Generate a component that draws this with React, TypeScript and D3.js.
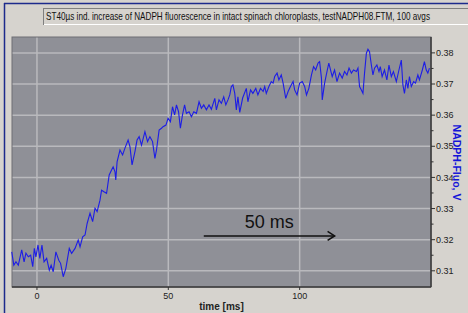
import React from "react";
import * as d3 from "d3";

// trace: time in ms, fluorescence in V
const timeMs = [
  -9.6, -8.8, -8.0, -7.1, -5.8, -4.9, -4.2, -3.3, -2.4, -1.6, -1.0, -0.4, 0.4, 1.1, 1.9, 2.7, 3.7, 4.7,
  5.4, 6.2, 7.2, 8.3, 9.0, 10.0, 11.0, 12.3, 13.2, 14.5, 15.7, 16.4, 17.4, 18.3, 19.1, 20.2, 21.2, 22.1,
  22.9, 24.0, 24.6, 25.5, 26.5, 27.5, 28.4, 29.0, 29.7, 30.0, 30.5, 31.6, 32.6, 33.5, 34.7, 35.4, 36.2,
  37.3, 38.1, 38.9, 39.8, 41.1, 42.1, 43.0, 44.0, 44.9, 45.5, 46.5, 47.4, 48.0, 49.1, 49.9, 50.8, 51.6,
  52.4, 53.1, 53.9, 54.6, 55.4, 56.2, 56.9, 57.9, 58.8, 59.7, 60.7, 61.7, 62.6, 63.5, 64.5, 65.5, 66.4,
  67.7, 68.3, 69.3, 70.2, 71.1, 71.9, 72.7, 73.4, 74.0, 74.6, 75.3, 75.9, 76.5, 77.2, 78.3, 79.7, 80.3,
  81.3, 82.2, 83.3, 84.1, 85.1, 86.1, 86.7, 87.3, 88.3, 89.2, 89.9, 90.5, 91.4, 92.1, 93.0, 93.7, 94.7,
  95.6, 96.5, 97.5, 98.1, 99.0, 100.0, 101.0, 101.9, 102.6, 103.5, 104.5, 105.3, 106.1, 107.0, 107.6,
  108.3, 108.6, 109.5, 110.4, 111.1, 112.4, 113.3, 114.2, 115.2, 116.2, 117.1, 118.0, 118.8, 119.7,
  120.5, 121.6, 122.2, 122.8, 123.5, 124.1, 124.7, 125.4, 126.0, 126.6, 127.3, 127.9, 128.5, 129.4,
  130.2, 130.7, 131.4, 132.3, 133.2, 134.0, 134.9, 135.7, 136.8, 137.8, 138.7, 139.3, 139.9, 140.6,
  141.2, 141.8, 142.5, 143.4, 144.1, 145.0, 145.6, 146.7, 147.5, 148.2, 148.8, 149.4,
];
const fluoV = [
  0.3161, 0.3118, 0.3129, 0.3118, 0.3167, 0.3129, 0.3157, 0.3145, 0.315, 0.3113, 0.3172, 0.3145, 0.3183,
  0.314, 0.3183, 0.3129, 0.314, 0.3102, 0.3118, 0.3097, 0.3161, 0.3134, 0.3124, 0.3081, 0.3108, 0.3172,
  0.3156, 0.3172, 0.3199, 0.3177, 0.3209, 0.3215, 0.3252, 0.3285, 0.3258, 0.3301, 0.329, 0.3327, 0.3359,
  0.3354, 0.3349, 0.3408, 0.3424, 0.3434, 0.3418, 0.3392, 0.345, 0.3488, 0.3472, 0.3494, 0.352, 0.3499,
  0.344, 0.3483, 0.352, 0.3531, 0.3504, 0.3547, 0.3515, 0.3531, 0.3515, 0.3461, 0.3488, 0.3552, 0.3558,
  0.3563, 0.3568, 0.359, 0.3579, 0.3627, 0.3601, 0.3633, 0.3611, 0.3558, 0.3601, 0.3633, 0.3606, 0.3611,
  0.3595, 0.3611, 0.3606, 0.3643, 0.3622, 0.3633, 0.3617, 0.3633, 0.3619, 0.3654, 0.3617, 0.3649, 0.3638,
  0.3659, 0.3633, 0.3649, 0.3665, 0.3692, 0.3697, 0.367, 0.3617, 0.3659, 0.3609, 0.3655, 0.3686, 0.3643,
  0.3681, 0.367, 0.3686, 0.3665, 0.3686, 0.3676, 0.3692, 0.367, 0.3692, 0.3708, 0.3703, 0.3724, 0.3735,
  0.3713, 0.3729, 0.3703, 0.3654, 0.3676, 0.3692, 0.3708, 0.3681, 0.3665, 0.3703, 0.3708, 0.3692, 0.3665,
  0.3686, 0.3729, 0.3756, 0.3745, 0.3767, 0.3772, 0.3719, 0.3649, 0.3703, 0.374, 0.3767, 0.3724, 0.3745,
  0.3708, 0.3735, 0.3719, 0.374, 0.3729, 0.3751, 0.3735, 0.3745, 0.374, 0.3751, 0.3692, 0.3681, 0.367,
  0.3735, 0.3799, 0.3812, 0.3804, 0.3761, 0.3729, 0.3751, 0.3761, 0.374, 0.3756, 0.3724, 0.3745, 0.3713,
  0.3761, 0.3724, 0.374, 0.3708, 0.3745, 0.3777, 0.3697, 0.367, 0.3713, 0.3686, 0.3724, 0.3692, 0.3708,
  0.3703, 0.3729, 0.3713, 0.3745, 0.3772, 0.3745, 0.3735, 0.3751,
];

const xTicks = [0, 50, 100];
const yTicks = [0.31, 0.32, 0.33, 0.34, 0.35, 0.36, 0.37, 0.38];
const yMinorTicks = [0.315, 0.325, 0.335, 0.345, 0.355, 0.365, 0.375];
const titleText =
  "ST40\u00b5s ind. increase of NADPH fluorescence in intact spinach chloroplasts, testNADPH08.FTM, 100 avgs";
const scaleBarMs = [63.5, 113.3];
const scaleBarLevel = 0.3212;
const scaleBarLabel = "50 ms";

const W = 468;
const H = 313;
const font = "'Liberation Sans', Arial, sans-serif";

export default function App() {
  const x = d3.scaleLinear().domain([-9.5, 150]).range([12, 431]);
  const y = d3.scaleLinear().domain([0.3048, 0.3851]).range([287, 37]);
  const [x0, x1] = x.range();
  const [yb, yt] = y.range();

  const pts = timeMs.map((t, i) => [t, fluoV[i]] as [number, number]);
  const path = d3
    .line<[number, number]>()
    .x((d) => x(d[0]))
    .y((d) => y(d[1]))(pts);

  const ay = y(scaleBarLevel);
  const ax0 = x(scaleBarMs[0]);
  const ax1 = x(scaleBarMs[1]);

  return (
    <div style={{ position: "absolute", left: 0, top: 0 }}>
      <svg width={W} height={H} style={{ display: "block" }} fontFamily={font}>
        <rect width={W} height={H} fill="#d6d3ce" />
        {/* window frame */}
        <line x1={4.5} y1={3} x2={4.5} y2={H} stroke="#1c2a8c" strokeWidth={1.5} />
        <line x1={4} y1={3.5} x2={W} y2={3.5} stroke="#1c2a8c" strokeWidth={1.5} />

        {/* title box */}
        <rect x={43.5} y={8.5} width={430} height={16} fill="#d6d3ce" stroke="#808080" />
        <line x1={44} y1={24.5} x2={W} y2={24.5} stroke="#ffffff" />
        <text
          transform="translate(46,20) scale(0.8,1)"
          fontSize={10}
          fill="#111"
          textLength={480}
          lengthAdjust="spacingAndGlyphs"
        >
          {titleText}
        </text>

        {/* plot area */}
        <rect x={x0} y={yt} width={x1 - x0} height={yb - yt} fill="#8f9097" />
        {yTicks.map((v) => (
          <line key={"gy" + v} x1={x0} x2={x1} y1={y(v)} y2={y(v)} stroke="#b9b9bd" strokeWidth={1.5} />
        ))}
        {xTicks.map((t) => (
          <line key={"gx" + t} x1={x(t)} x2={x(t)} y1={yt} y2={yb} stroke="#b9b9bd" strokeWidth={1.5} />
        ))}
        <rect x={x0} y={yt} width={x1 - x0} height={yb - yt} fill="none" stroke="#6e6e74" strokeWidth={1} />
        <line x1={x0} x2={x1} y1={yb} y2={yb} stroke="#3a3a3a" strokeWidth={1.5} />
        <line x1={x1} x2={x1} y1={yt} y2={yb} stroke="#3a3a3a" strokeWidth={1.5} />

        {/* trace */}
        <path d={path ?? ""} fill="none" stroke="#1d1de6" strokeWidth={1.1} />

        {/* scale bar */}
        <line x1={ax0} x2={ax1} y1={ay} y2={ay} stroke="#111" strokeWidth={1.6} />
        <polyline
          points={`${ax1 - 7},${ay - 4.5} ${ax1},${ay} ${ax1 - 7},${ay + 4.5}`}
          fill="none"
          stroke="#111"
          strokeWidth={1.6}
        />
        <text x={(ax0 + ax1) / 2} y={ay - 8} fontSize={18} textAnchor="middle" fill="#111">
          {scaleBarLabel}
        </text>

        {/* right axis */}
        {yTicks.map((v) => (
          <g key={"ty" + v}>
            <line x1={x1} x2={x1 + 4} y1={y(v)} y2={y(v)} stroke="#333" />
            <text x={x1 + 5} y={y(v) + 3.2} fontSize={9} fill="#222">
              {v.toFixed(2)}
            </text>
          </g>
        ))}
        {yMinorTicks.map((v) => (
          <line key={"my" + v} x1={x1} x2={x1 + 2.5} y1={y(v)} y2={y(v)} stroke="#333" />
        ))}
        <text
          transform={`translate(452.5, ${(yt + yb) / 2 + 0.5}) rotate(90)`}
          fontSize={10.5}
          fontWeight="bold"
          textAnchor="middle"
          fill="#1414d8"
        >
          NADPH-Fluo, V
        </text>

        {/* bottom axis */}
        {xTicks.map((t) => (
          <g key={"tx" + t}>
            <line x1={x(t)} x2={x(t)} y1={yb} y2={yb + 3} stroke="#333" />
            <text x={x(t)} y={299} fontSize={9} textAnchor="middle" fill="#222">
              {t}
            </text>
          </g>
        ))}
        <text x={221.5} y={309.5} fontSize={10} fontWeight="bold" textAnchor="middle" fill="#222">
          time [ms]
        </text>
      </svg>
    </div>
  );
}
